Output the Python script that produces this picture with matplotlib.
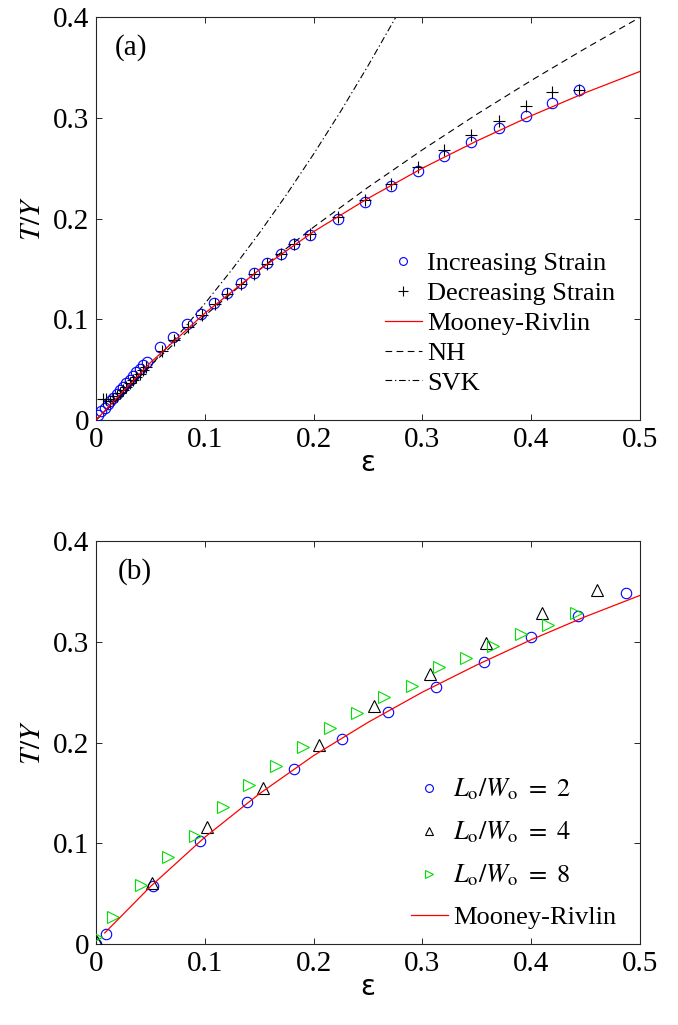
import numpy as np
import matplotlib
matplotlib.use('Agg')
import matplotlib.pyplot as plt

plt.rcParams['font.family'] = ['Liberation Serif', 'DejaVu Serif']
plt.rcParams['mathtext.fontset'] = 'stix'

# ---- panel (a) data ----
inc_eps = [0.002, 0.005, 0.008, 0.011, 0.013, 0.016, 0.019, 0.022, 0.025, 0.028,
           0.031, 0.034, 0.037, 0.040, 0.043, 0.0466, 0.0588, 0.071, 0.0834, 0.0962,
           0.108, 0.120, 0.133, 0.145, 0.157, 0.170, 0.182, 0.197, 0.222, 0.247,
           0.271, 0.296, 0.320, 0.345, 0.370, 0.395, 0.419, 0.444]
inc_T = [0.005, 0.009, 0.012, 0.016, 0.019, 0.022, 0.026, 0.030, 0.033, 0.037,
         0.040, 0.044, 0.048, 0.051, 0.055, 0.058, 0.072, 0.0827, 0.095, 0.1055,
         0.1164, 0.126, 0.136, 0.146, 0.156, 0.165, 0.175, 0.184, 0.200, 0.216,
         0.232, 0.247, 0.262, 0.276, 0.290, 0.302, 0.315, 0.3275]

dec_eps = [0.006, 0.009, 0.013, 0.016, 0.019, 0.022, 0.025, 0.028, 0.031, 0.034,
           0.037, 0.040, 0.043, 0.046, 0.0604, 0.0717, 0.0849, 0.097, 0.109, 0.120,
           0.133, 0.145, 0.157, 0.170, 0.182, 0.197, 0.222, 0.247, 0.271, 0.296,
           0.320, 0.345, 0.370, 0.395, 0.419, 0.444]
dec_T = [0.021, 0.021, 0.019, 0.021, 0.024, 0.027, 0.030, 0.033, 0.037, 0.040,
         0.043, 0.046, 0.050, 0.053, 0.0685, 0.079, 0.092, 0.1042, 0.115, 0.125,
         0.135, 0.145, 0.155, 0.165, 0.175, 0.185, 0.202, 0.218, 0.234, 0.251,
         0.268, 0.283, 0.297, 0.312, 0.326, 0.328]

mr_eps = [0.0, 0.05, 0.10, 0.15, 0.20, 0.25, 0.30, 0.35, 0.40, 0.45, 0.50]
mr_T = [0.0, 0.057, 0.106, 0.149, 0.187, 0.220, 0.250, 0.277, 0.302, 0.325, 0.346]

nh_eps = [0.0, 0.05, 0.10, 0.15, 0.20, 0.25, 0.30, 0.35, 0.40, 0.45, 0.50]
nh_T = [0.0, 0.0541, 0.1036, 0.1492, 0.1915, 0.2310, 0.2682, 0.3035, 0.3370, 0.3690, 0.3997]

svk_eps = [0.0, 0.025, 0.05, 0.075, 0.10, 0.125, 0.15, 0.175, 0.20, 0.225, 0.25, 0.275, 0.30]
svk_T = [0.0, 0.0259, 0.0538, 0.0836, 0.1155, 0.1494, 0.1854, 0.2236, 0.2640, 0.3066,
         0.3516, 0.3988, 0.4485]

# ---- panel (b) data ----
lw2_eps = [0.0, 0.0092, 0.052, 0.0956, 0.139, 0.182, 0.2258, 0.268, 0.3125, 0.3566,
           0.3995, 0.443, 0.4868]
lw2_T = [0.0, 0.0099, 0.058, 0.102, 0.141, 0.174, 0.2035, 0.2306, 0.2554, 0.2802,
         0.305, 0.3256, 0.348]

lw4_eps = [0.0006, 0.0512, 0.1017, 0.1538, 0.2053, 0.2555, 0.307, 0.3585, 0.410, 0.4608]
lw4_T = [0.0023, 0.0602, 0.1164, 0.1545, 0.198, 0.2365, 0.2677, 0.299, 0.329, 0.3514]

lw8_eps = [0.0, 0.0159, 0.0414, 0.0659, 0.091, 0.1164, 0.141, 0.1654, 0.1906, 0.215,
           0.240, 0.2647, 0.2907, 0.3156, 0.340, 0.3652, 0.3906, 0.4157, 0.4409]
lw8_T = [0.0066, 0.0271, 0.0586, 0.086, 0.107, 0.1363, 0.1578, 0.1767, 0.1952, 0.214,
         0.229, 0.2448, 0.2561, 0.2747, 0.2836, 0.2958, 0.3077, 0.3166, 0.3282]

mrb_eps = [0.008, 0.05, 0.10, 0.15, 0.20, 0.25, 0.30, 0.35, 0.40, 0.45, 0.50]
mrb_T = [0.011, 0.057, 0.106, 0.149, 0.187, 0.220, 0.250, 0.277, 0.302, 0.325, 0.346]

xticks = [0, 0.1, 0.2, 0.3, 0.4, 0.5]
yticks = [0, 0.1, 0.2, 0.3, 0.4]
tick_labels_x = ['0', '0.1', '0.2', '0.3', '0.4', '0.5']
tick_labels_y = ['0', '0.1', '0.2', '0.3', '0.4']

fig = plt.figure(figsize=(6.78, 10.25), dpi=100)
ax1 = fig.add_axes([0.1416, 0.5902, 0.8024, 0.3932])
ax2 = fig.add_axes([0.1416, 0.0790, 0.8024, 0.3932])

ax1.plot(inc_eps, inc_T, 'o', mfc='none', mec='#0000ff', ms=7.5, mew=0.8,
         label='Increasing Strain', zorder=3)
ax1.plot(dec_eps, dec_T, '+', color='black', ms=9, mew=0.8,
         label='Decreasing Strain', zorder=4)
ax1.plot(mr_eps, mr_T, '-', color='#ff0000', lw=0.9, label='Mooney-Rivlin', zorder=5)
ax1.plot(nh_eps, nh_T, '--', color='black', lw=0.8, dashes=(6, 4), label='NH')
ax1.plot(svk_eps, svk_T, '-.', color='black', lw=0.8, dashes=(6, 2.5, 1.2, 2.5),
         label='SVK')
ax1.text(0.035, 0.925, '(a)', transform=ax1.transAxes, fontsize=21, va='center')
ax1.legend(loc='upper left', bbox_to_anchor=(0.531, 0.417), frameon=False,
           fontsize=19, handlelength=1.4, handletextpad=0.2, labelspacing=0.24,
           borderpad=0, borderaxespad=0, markerscale=0.75)

ax2.plot(lw2_eps, lw2_T, 'o', mfc='none', mec='#0000ff', ms=7.5, mew=0.8,
         label=r'$L_{\mathrm{o}}/W_{\mathrm{o}}\ =\ 2$', zorder=3)
ax2.plot(lw4_eps, lw4_T, '^', mfc='none', mec='black', ms=8, mew=0.8,
         label=r'$L_{\mathrm{o}}/W_{\mathrm{o}}\ =\ 4$', zorder=3)
ax2.plot(lw8_eps, lw8_T, '>', mfc='none', mec='#00e000', ms=8, mew=0.8,
         label=r'$L_{\mathrm{o}}/W_{\mathrm{o}}\ =\ 8$', zorder=3)
ax2.plot(mrb_eps, mrb_T, '-', color='#ff0000', lw=0.9, label='Mooney-Rivlin', zorder=5)
ax2.text(0.04, 0.925, '(b)', transform=ax2.transAxes, fontsize=21, va='center')
ax2.legend(loc='upper left', bbox_to_anchor=(0.579, 0.415), frameon=False,
           fontsize=19, handlelength=1.4, handletextpad=0.2, labelspacing=0.66,
           borderpad=0, borderaxespad=0, markerscale=0.75)

for ax in (ax1, ax2):
    ax.set_xlim(0, 0.5)
    ax.set_ylim(0, 0.4)
    ax.set_xticks(xticks)
    ax.set_xticklabels(tick_labels_x)
    ax.set_yticks(yticks)
    ax.set_yticklabels(tick_labels_y)
    ax.tick_params(direction='in', length=4, width=0.7, top=True, right=True,
                   labelsize=21, pad=5, colors='#262626', labelcolor='black')
    for s in ax.spines.values():
        s.set_color('#262626')
        s.set_linewidth(0.8)
    ax.set_xlabel('ε', family='DejaVu Sans', fontsize=20, labelpad=-3)
    ax.set_ylabel(r'$T/Y$', fontsize=21, labelpad=5)

fig.savefig('out.png', dpi=100)
